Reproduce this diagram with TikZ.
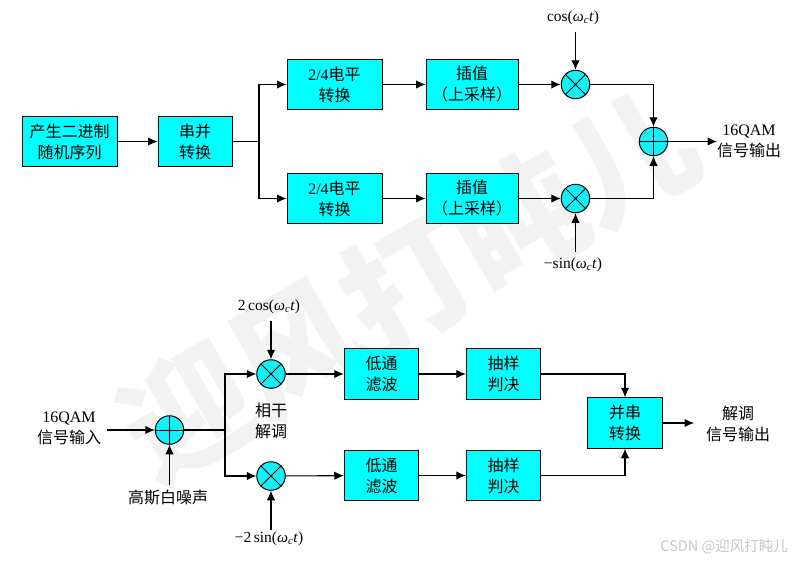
\documentclass[tikz,border=0pt]{standalone}
\usepackage{amsmath}
\usepackage{fontspec}
\setmainfont{Liberation Serif}
\newfontfamily\cjk{Noto Sans CJK SC}
\usetikzlibrary{arrows.meta}

\definecolor{boxcyan}{RGB}{0,255,255}
\definecolor{discyan}{RGB}{20,240,245}

\tikzset{
    block/.style={draw, line width=1pt, fill=boxcyan, minimum width=#1, minimum height=50.5pt, inner sep=0pt, align=center},
    block/.default=74.5pt,
    mixer/.style={draw, line width=1pt, circle, fill=discyan, minimum size=28.5pt, inner sep=0pt,
        path picture={\draw[line width=1pt] (path picture bounding box.north west) -- (path picture bounding box.south east)
            (path picture bounding box.north east) -- (path picture bounding box.south west);}},
    adder/.style={draw, line width=1pt, circle, fill=discyan, minimum size=28.5pt, inner sep=0pt,
        path picture={\draw[line width=1pt] (path picture bounding box.north) -- (path picture bounding box.south)
            (path picture bounding box.east) -- (path picture bounding box.west);}},
    sig/.style={-{Latex[length=9.5pt,width=8.5pt]}, line width=1.1pt},
    txt/.style={align=center, inner sep=0pt}
}
\newcommand{\zhfont}{\fontsize{16}{21}\selectfont\cjk}
\newcommand{\lat}{\fontsize{15.5}{21}\selectfont\rmfamily}
\newcommand{\wct}{\textit{ω}\textsubscript{\textit{c}}\textit{t}}

\begin{document}
\begin{tikzpicture}[x=1pt, y=-1pt, every node/.style={font=\zhfont}]

    \useasboundingbox (0,0) rectangle (800,563);

    % Watermark
    \node[text=black!5, rotate=30, inner sep=0pt, font=\fontsize{128}{128}\selectfont\cjk\bfseries] (mark) at (408,285) {迎风打盹儿};
    \node[text=black!22, inner sep=0pt, anchor=east, font=\fontsize{14.5}{16}\selectfont\cjk] (csdn) at (788,547) {CSDN @迎风打盹儿};

    % ---------- Modulator ----------
    \node[block=95pt] (gen) at (69.5,141.5) {产生二进制\\随机序列};
    \node[block=74pt] (sp) at (195,141.5) {串并\\转换};
    \node[block=95pt] (levelA) at (334.5,84.5) {{\rmfamily 2/4}电平\\转换};
    \node[block=92pt] (upA) at (472,84.5) {插值\\（上采样）};
    \node[block=95pt] (levelB) at (334.5,198.5) {{\rmfamily 2/4}电平\\转换};
    \node[block=92pt] (upB) at (472,198.5) {插值\\（上采样）};
    \node[mixer] (mixA) at (575.5,84.5) {};
    \node[mixer] (mixB) at (575.5,198.5) {};
    \node[adder] (sum) at (653.5,141.5) {};

    % Carriers and output
    \node[txt, font=\lat] (cosA) at (573,18) {cos(\wct)};
    \node[txt, font=\lat] (sinB) at (573,265) {−sin(\wct)};
    \node[txt] (outA) at (749,141.5) {{\rmfamily 16QAM}\\信号输出};
    \coordinate (splitA) at (259,141.5);
    \coordinate (cosEnd) at (575.5,32);
    \coordinate (sinEnd) at (575.5,252);
    \coordinate (outEnd) at (717,141.5);

    \draw[sig] (gen) -- (sp);
    \draw[line width=1.1pt] (sp) -- (splitA);
    \draw[sig] (splitA) |- (levelA);
    \draw[sig] (splitA) |- (levelB);
    \draw[sig] (levelA) -- (upA);
    \draw[sig] (levelB) -- (upB);
    \draw[sig] (upA) -- (mixA);
    \draw[sig] (upB) -- (mixB);
    \draw[sig] (cosEnd) -- (mixA);
    \draw[sig] (sinEnd) -- (mixB);
    \draw[sig] (mixA) -| (sum);
    \draw[sig] (mixB) -| (sum);
    \draw[sig] (sum) -- (outEnd);

    % ---------- Demodulator ----------
    \node[adder] (noisy) at (169.5,430) {};
    \node[mixer] (mixC) at (271,374) {};
    \node[mixer] (mixD) at (271,476) {};
    \node[block] (lpA) at (381.5,374) {低通\\滤波};
    \node[block] (lpB) at (381.5,475.5) {低通\\滤波};
    \node[block] (decA) at (503.5,374) {抽样\\判决};
    \node[block] (decB) at (503.5,475.5) {抽样\\判决};
    \node[block] (ps) at (625,423) {并串\\转换};

    % Inputs, carriers and output
    \node[txt] (inC) at (69,428) {{\rmfamily 16QAM}\\信号输入};
    \node[txt] (noise) at (168,497) {高斯白噪声};
    \node[txt] (coh) at (271,420.5) {相干\\解调};
    \node[txt, font=\lat] (cosC) at (269,307) {2\,cos(\wct)};
    \node[txt, font=\lat] (sinD) at (269,539) {−2\,sin(\wct)};
    \node[txt] (outC) at (738,424) {解调\\信号输出};
    \coordinate (inEnd) at (107,430);
    \coordinate (noiseEnd) at (169.5,485);
    \coordinate (splitC) at (225,430);
    \coordinate (cosCEnd) at (271,321);
    \coordinate (sinDEnd) at (271,530);
    \coordinate (outCEnd) at (694,423);

    \draw[sig] (inEnd) -- (noisy);
    \draw[sig] (noiseEnd) -- (noisy);
    \draw[line width=1.1pt] (noisy) -- (splitC);
    \draw[sig] (splitC) |- (mixC);
    \draw[sig] (splitC) |- (mixD);
    \draw[sig] (cosCEnd) -- (mixC);
    \draw[sig] (sinDEnd) -- (mixD);
    \draw[sig] (mixC) -- (lpA);
    \draw[sig] (mixD) -- (lpB);
    \draw[sig] (lpA) -- (decA);
    \draw[sig] (lpB) -- (decB);
    \draw[sig] (decA) -| (ps);
    \draw[sig] (decB) -| (ps);
    \draw[sig] (ps) -- (outCEnd);

\end{tikzpicture}
\end{document}
